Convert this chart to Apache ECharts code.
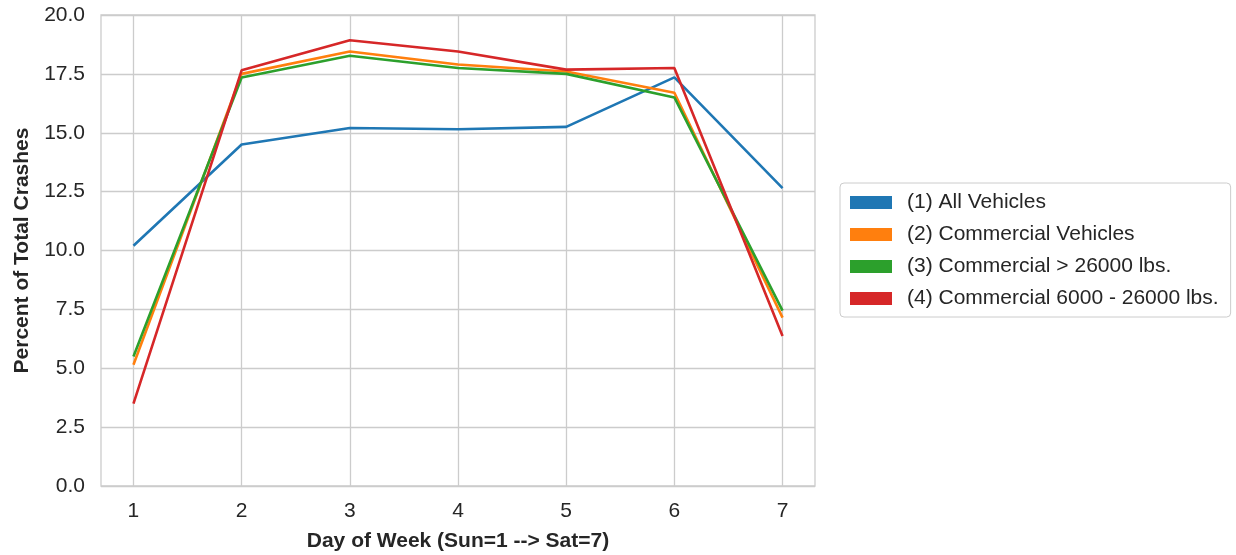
<!DOCTYPE html>
<html>
<head>
<meta charset="utf-8">
<script src="https://cdn.jsdelivr.net/npm/echarts@6/dist/echarts.min.js"></script>
<style>
  html, body { margin: 0; padding: 0; background: #fff; }
  #chart { width: 1236px; height: 555px; }
</style>
</head>
<body>
<div id="chart"></div>
<script>
// Day of week, Sunday = 1 through Saturday = 7
const days = [1, 2, 3, 4, 5, 6, 7];
const yTicks = [0, 2.5, 5, 7.5, 10, 12.5, 15, 17.5, 20];

// Percent of total crashes falling on each day
const allVehicles        = [10.2, 14.5, 15.2, 15.15, 15.25, 17.35, 12.65];
const commercialVehicles = [5.15, 17.5, 18.45, 17.9, 17.6, 16.7, 7.15];
const commercialHeavy    = [5.5, 17.35, 18.27, 17.75, 17.5, 16.5, 7.45];
const commercialMedium   = [3.5, 17.65, 18.93, 18.45, 17.68, 17.75, 6.37];

const seriesNames = [
  '(1) All Vehicles',
  '(2) Commercial Vehicles',
  '(3) Commercial > 26000 lbs.',
  '(4) Commercial 6000 - 26000 lbs.'
];
const seriesValues = [allVehicles, commercialVehicles, commercialHeavy, commercialMedium];
const colors = ['#1f77b4', '#ff7f0e', '#2ca02c', '#d62728'];

const textColor = '#262626';
const gridColor = '#cccccc';
const font = '"Liberation Sans", Arial, sans-serif';
const fontSize = 21;

const chart = echarts.init(document.getElementById('chart'), null, { renderer: 'canvas' });

chart.setOption({
  backgroundColor: '#ffffff',
  animation: false,
  color: colors,
  grid: {
    left: 101, top: 15, right: 421, bottom: 69,
    outerBoundsMode: 'none',
    show: true, borderColor: gridColor, borderWidth: 1.3
  },
  legend: {
    orient: 'vertical',
    left: 840,
    top: 183,
    padding: [9, 12, 8, 10],
    borderColor: gridColor,
    borderWidth: 1,
    borderRadius: 4,
    itemWidth: 42,
    itemHeight: 13,
    itemGap: 11,
    icon: 'rect',
    textStyle: { color: textColor, fontFamily: font, fontSize: fontSize, padding: [0, 0, 0, 10] },
    data: seriesNames
  },
  xAxis: {
    type: 'value',
    min: 0.7,
    max: 7.3,
    name: 'Day of Week (Sun=1 --> Sat=7)',
    nameLocation: 'middle',
    nameGap: 45,
    nameTextStyle: { color: textColor, fontFamily: font, fontSize: fontSize, fontWeight: 'bold' },
    axisLine: { show: false },
    axisTick: { show: false, customValues: days },
    axisLabel: { customValues: days, color: textColor, fontFamily: font, fontSize: fontSize, margin: 15 },
    splitLine: { show: true, lineStyle: { color: gridColor, width: 1.3 } }
  },
  yAxis: {
    type: 'value',
    min: 0,
    max: 20,
    interval: 2.5,
    name: 'Percent of Total Crashes',
    nameLocation: 'middle',
    nameGap: 68,
    nameTextStyle: { color: textColor, fontFamily: font, fontSize: fontSize, fontWeight: 'bold' },
    axisLine: { show: false },
    axisTick: { show: false },
    axisLabel: {
      color: textColor, fontFamily: font, fontSize: fontSize, margin: 16,
      formatter: v => v.toFixed(1)
    },
    splitLine: { show: true, lineStyle: { color: gridColor, width: 1.3 } }
  },
  series: seriesNames.map((name, i) => ({
    name: name,
    type: 'line',
    showSymbol: false,
    lineStyle: { width: 2.6, color: colors[i] },
    itemStyle: { color: colors[i] },
    data: days.map((d, j) => [d, seriesValues[i][j]])
  }))
});
</script>
</body>
</html>
